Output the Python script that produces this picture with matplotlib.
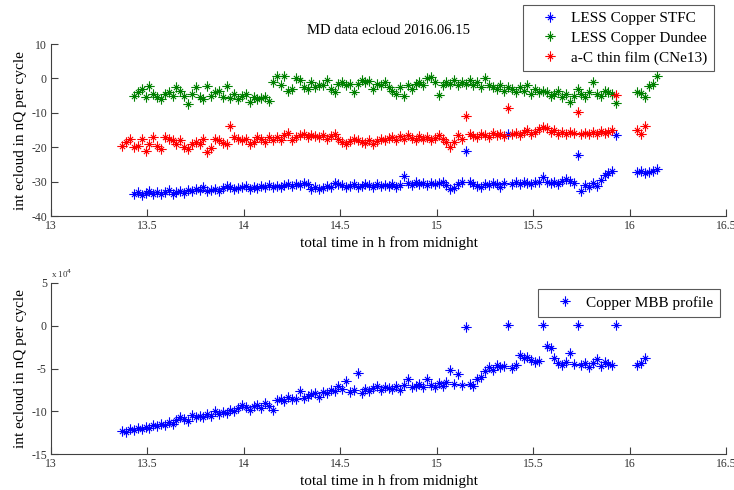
import numpy as np
import matplotlib
matplotlib.use('Agg')
import matplotlib.pyplot as plt
from matplotlib.path import Path

nan = np.nan

# time in h from midnight
t = [13.37, 13.39, 13.41, 13.43, 13.45, 13.47, 13.49, 13.51, 13.53, 13.55,
     13.57, 13.59, 13.61, 13.63, 13.65, 13.67, 13.69, 13.71, 13.73, 13.75,
     13.77, 13.79, 13.81, 13.83, 13.85, 13.87, 13.89, 13.91, 13.93, 13.95,
     13.97, 13.99, 14.01, 14.03, 14.05, 14.07, 14.09, 14.11, 14.13, 14.15,
     14.17, 14.19, 14.21, 14.23, 14.25, 14.27, 14.29, 14.31, 14.33, 14.35,
     14.37, 14.39, 14.41, 14.43, 14.45, 14.47, 14.49, 14.51, 14.53, 14.55,
     14.57, 14.59, 14.61, 14.63, 14.65, 14.67, 14.69, 14.71, 14.73, 14.75,
     14.77, 14.79, 14.81, 14.83, 14.85, 14.87, 14.89, 14.91, 14.93, 14.95,
     14.97, 14.99, 15.01, 15.03, 15.05, 15.07, 15.09, 15.11, 15.13, 15.15,
     15.17, 15.19, 15.21, 15.23, 15.25, 15.27, 15.29, 15.31, 15.33, 15.35,
     15.37, 15.39, 15.41, 15.43, 15.45, 15.47, 15.49, 15.51, 15.53, 15.55,
     15.57, 15.59, 15.61, 15.63, 15.65, 15.67, 15.69, 15.71, 15.73, 15.75,
     15.77, 15.79, 15.81, 15.83, 15.85, 15.87, 15.89, 15.91, 15.93,
     16.04, 16.06, 16.08, 16.10, 16.12, 16.14]

stfc = [nan, nan, nan, -33.5, -33.0, -34.0, -33.2, -32.8, -33.5, -33.0,
        -33.6, -33.0, -32.5, -33.5, -33.0, -32.8, -33.2, -32.5, -32.8, -32.0,
        -32.5, -31.5, -32.8, -32.5, -32.2, -32.8, -31.8, -31.2, -31.5, -32.0,
        -31.8, -31.5, -31.2, -32.0, -31.5, -31.8, -31.3, -31.5, -31.0, -31.6,
        -31.2, -31.5, -31.0, -30.8, -31.2, -30.6, -31.0, -30.5, -30.8, -32.0,
        -31.5, -32.0, -31.8, -31.2, -31.6, -30.5, -30.8, -31.0, -31.5, -31.2,
        -30.8, -31.5, -31.2, -30.6, -31.0, -31.4, -30.8, -31.2, -30.9, -31.3,
        -30.8, -31.6, -31.0, -28.2, -30.5, -31.0, -30.2, -30.7, -30.4, -30.9,
        -30.3, -30.8, -30.5, -30.2, -31.0, -32.0, -31.8, -30.6, -30.2, -21.1,
        -30.0, -30.8, -31.2, -31.5, -30.6, -31.0, -30.3, -30.8, -31.5, -30.5,
        -16.1, -30.8, -30.2, -30.6, -30.0, -30.4, -30.8, -30.2, -30.0, -28.6,
        -30.2, -30.5, -30.0, -30.6, -29.8, -29.2, -29.8, -30.5, -22.1, -32.6,
        -31.0, -31.5, -30.5, -31.2, -29.5, -28.0, -27.4, -27.0, -16.3,
        -27.3, -27.0, -27.6, -27.2, -26.8, -26.2]

dundee = [nan, nan, nan, -5.0, -4.0, -3.0, -5.5, -2.2, -4.5, -5.5,
          -6.0, -4.5, -4.0, -5.0, -2.5, -3.5, -5.0, -7.3, -4.5, -2.5,
          -5.5, -6.0, -2.2, -5.0, -4.0, -3.5, -5.5, -2.2, -5.8, -4.5,
          -6.0, -5.2, -4.5, -6.8, -5.5, -6.0, -5.8, -5.5, -6.5, -1.0,
          0.8, -2.0, 0.8, -3.5, -3.0, 0.0, -0.3, -2.5, -3.0, -1.0,
          -2.5, -2.0, -2.0, -0.5, -3.0, -4.0, -1.5, -1.0, -2.0, -1.5,
          -3.8, -1.5, -0.5, -1.0, -0.7, -3.0, -1.5, -2.0, -1.0, -2.5,
          -3.5, -4.5, -2.5, -5.0, -2.0, -3.0, -1.5, -1.0, -2.0, 0.0,
          0.4, -1.0, -4.8, -2.0, -1.0, -1.5, -0.5, -2.0, -1.0, -1.5,
          -0.5, -2.0, -1.0, -2.5, 0.2, -1.8, -2.5, -3.0, -2.0, -3.5,
          -2.5, -3.0, -4.0, -2.5, -3.5, -2.0, -4.5, -3.0, -4.0, -3.5,
          -4.0, -5.0, -4.5, -3.5, -5.5, -4.5, -6.9, -5.0, -3.0, -4.5,
          -5.5, -4.0, -1.0, -4.5, -5.0, -3.5, -4.0, -4.5, -7.2,
          -4.0, -4.2, -5.5, -2.2, -1.5, 0.7]

cne13 = [-19.5, -18.5, -17.5, -20.0, -19.5, -17.5, -21.0, -19.0, -17.0, -19.5,
         -20.5, -17.0, -17.5, -18.0, -19.0, -18.0, -20.0, -20.5, -19.0, -18.5,
         -19.0, -17.5, -21.4, -20.3, -17.5, -17.8, -18.8, -19.0, -13.9, -17.0,
         -17.5, -18.0, -17.5, -19.0, -18.5, -17.0, -17.5, -18.5, -17.0, -18.0,
         -17.0, -18.0, -16.5, -15.8, -18.0, -17.0, -16.5, -16.2, -17.0, -16.5,
         -16.8, -17.0, -16.5, -17.5, -16.8, -16.2, -17.5, -18.5, -19.0, -18.2,
         -17.5, -18.0, -18.5, -18.8, -18.0, -19.0, -18.2, -17.5, -18.0, -17.2,
         -17.0, -17.8, -16.8, -17.5, -16.5, -17.2, -18.0, -16.8, -17.5, -17.0,
         -17.8, -17.2, -16.5, -17.5, -18.5, -20.0, -18.5, -16.5, -17.5, -10.8,
         -16.0, -16.8, -17.0, -16.2, -16.5, -17.0, -15.8, -16.5, -16.0, -16.8,
         -8.5, -16.2, -15.8, -16.5, -15.5, -15.0, -16.2, -15.5, -14.8, -14.0,
         -14.5, -15.5, -15.0, -16.0, -15.5, -16.2, -15.5, -15.8, -9.6, -16.0,
         -15.8, -16.0, -15.5, -16.0, -15.2, -15.8, -15.5, -15.0, -4.9,
         -15.0, -16.0, -13.9, nan, nan, nan]

# copper MBB profile, units of 1e4 nQ
mbb = [-12.3, -12.4, -12.1, -12.2, -11.9, -12.0, -11.8, -11.9, -11.6, -11.7,
       -11.5, -11.6, -11.2, -11.5, -11.0, -10.7, -10.9, -11.1, -10.4, -10.6,
       -10.5, -10.6, -10.3, -10.5, -10.0, -10.3, -10.1, -10.2, -9.8, -10.0,
       -9.6, -9.3, -9.5, -9.8, -9.4, -9.2, -9.6, -9.0, -9.4, -9.8,
       -8.7, -8.5, -8.8, -8.3, -8.6, -8.5, -7.6, -8.4, -8.2, -8.0,
       -7.8, -8.3, -7.7, -7.9, -7.5, -7.6, -7.0, -7.4, -6.4, -7.7,
       -7.5, -5.5, -7.8, -7.4, -7.6, -7.3, -7.0, -7.5, -7.1, -7.3,
       -7.4, -7.0, -7.5, -6.9, -6.2, -7.1, -7.0, -6.8, -7.2, -6.2,
       -6.9, -7.1, -6.7, -7.0, -6.6, -5.2, -6.8, -5.6, -6.9, -0.1,
       -6.8, -7.0, -6.2, -6.0, -5.3, -4.8, -5.2, -4.6, -4.8, -4.7,
       0.1, -4.9, -4.6, -3.4, -3.8, -3.6, -4.0, -4.2, -4.1, 0.1,
       -2.4, -2.6, -3.8, -4.3, -4.6, -4.2, -3.2, -4.5, 0.1, -4.6,
       -4.3, -4.8, -4.4, -3.9, -4.7, -4.2, -4.5, -4.6, 0.1,
       -4.6, -4.3, -3.8, nan, nan, nan]

plt.rcParams['font.family'] = ['Liberation Serif', 'DejaVu Serif']
plt.rcParams['axes.unicode_minus'] = False

# matlab '*' marker: plus with shorter diagonals (they look faint in the png)
d = 0.5
ast = Path([(-1, 0), (1, 0), (0, -1), (0, 1),
            (-d, -d), (d, d), (-d, d), (d, -d)],
           [Path.MOVETO, Path.LINETO] * 4)
mk = dict(linestyle='none', marker=ast, markersize=7.5, markeredgewidth=0.8)
axcol = '#404040'

fig = plt.figure(figsize=(7.34, 4.9), dpi=100)
ax1 = fig.add_axes([0.0695, 0.559, 0.9196, 0.351])
ax2 = fig.add_axes([0.0695, 0.0729, 0.9196, 0.350])

ax1.plot(t, stfc, color=(0, 0, 1), label='LESS Copper STFC', **mk)
ax1.plot(t, dundee, color=(0, 0.5, 0), label='LESS Copper Dundee', **mk)
ax1.plot(t, cne13, color=(1, 0, 0), label='a-C thin film (CNe13)', **mk)
ax2.plot(t, mbb, color=(0, 0, 1), label='Copper MBB profile', **mk)

ax1.set_ylim(-40, 10)
ax1.set_yticks([-40, -30, -20, -10, 0, 10])
ax2.set_ylim(-15, 5)
ax2.set_yticks([-15, -10, -5, 0, 5])
ax2.text(0.0, 1.015, r'x 10$^4$', transform=ax2.transAxes, fontsize=6.5,
         color='#333333', ha='left', va='bottom')

for ax in (ax1, ax2):
    ax.set_xlim(13, 16.5)
    ax.set_xticks([13, 13.5, 14, 14.5, 15, 15.5, 16, 16.5])
    ax.set_xticklabels(['13', '13.5', '14', '14.5', '15', '15.5', '16', '16.5'])
    ax.spines['top'].set_visible(False)
    ax.spines['right'].set_visible(False)
    for s in ('left', 'bottom'):
        ax.spines[s].set_color(axcol)
        ax.spines[s].set_linewidth(0.8)
    ax.tick_params(direction='in', length=5, width=0.8, color=axcol,
                   labelsize=8.5, labelcolor='#333333', pad=3)
    ax.set_xlabel('total time in h from midnight', fontsize=11, labelpad=3)
    ax.set_ylabel('int ecloud in nQ per cycle', fontsize=11, labelpad=3)

ax1.set_title('MD data ecloud 2016.06.15', fontsize=10.5, pad=7)

legkw = dict(numpoints=1, fontsize=11, frameon=True, fancybox=False,
             borderpad=0.45, handlelength=2.6, handletextpad=0.1,
             labelspacing=0.38, borderaxespad=0)
lg1 = fig.legend(handles=ax1.lines, loc='upper right',
                 bbox_to_anchor=(0.9728, 0.9904), **legkw)
lg2 = fig.legend(handles=ax2.lines, loc='upper right',
                 bbox_to_anchor=(0.981, 0.4102), **legkw)
for lg in (lg1, lg2):
    lg.get_frame().set_edgecolor('#303030')
    lg.get_frame().set_linewidth(0.8)

fig.savefig('out.png', dpi=100)
